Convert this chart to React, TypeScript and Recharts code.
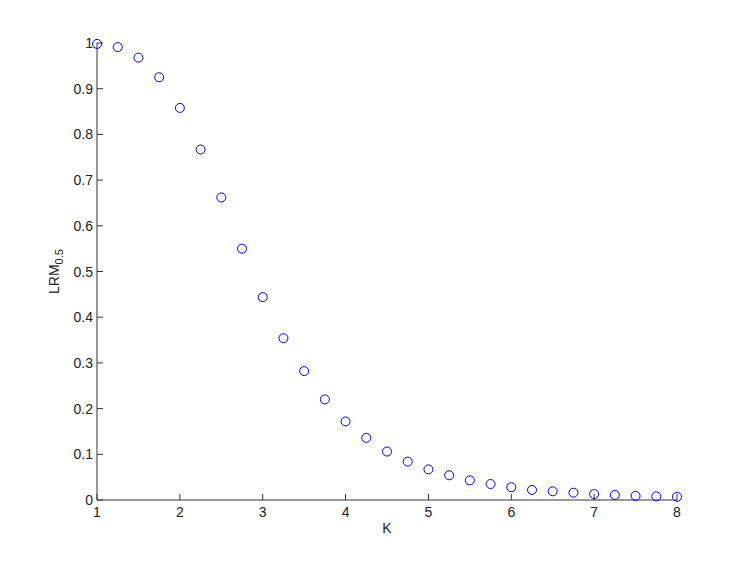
import { ScatterChart, Scatter, XAxis, YAxis } from "recharts"

const kValues = [1, 1.25, 1.5, 1.75, 2, 2.25, 2.5, 2.75, 3, 3.25, 3.5, 3.75, 4, 4.25, 4.5, 4.75, 5, 5.25, 5.5, 5.75, 6, 6.25, 6.5, 6.75, 7, 7.25, 7.5, 7.75, 8]
const lrmValues = [0.998, 0.991, 0.968, 0.925, 0.858, 0.767, 0.662, 0.55, 0.444, 0.354, 0.282, 0.22, 0.172, 0.136, 0.106, 0.084, 0.067, 0.054, 0.043, 0.035, 0.028, 0.022, 0.019, 0.016, 0.013, 0.011, 0.009, 0.008, 0.007]
const xTicks = [1, 2, 3, 4, 5, 6, 7, 8]
const yTicks = [0, 0.1, 0.2, 0.3, 0.4, 0.5, 0.6, 0.7, 0.8, 0.9, 1]

const data = kValues.map((k, i) => ({ k, lrm: lrmValues[i] }))

const FONT = "'Liberation Sans', Arial, sans-serif"
const AXIS = "#333"

const YTick = ({ x, y, payload }: any) => (
    <g>
        <line x1={x + 5} x2={x + 11} y1={y} y2={y} stroke={AXIS} />
        <text x={x + 1} y={y} dy={5} textAnchor="end" fontSize={14} fontFamily={FONT} fill="#222">
            {String(payload.value)}
        </text>
    </g>
)

const XTick = ({ x, y, payload }: any) => (
    <g>
        <line x1={x} x2={x} y1={y - 5} y2={y - 11} stroke={AXIS} />
        <text x={x} y={y} dy={12} textAnchor="middle" fontSize={14} fontFamily={FONT} fill="#222">
            {String(payload.value)}
        </text>
    </g>
)

const YLabel = ({ viewBox }: any) => {
    const cx = viewBox.x + 2
    const cy = viewBox.y + viewBox.height / 2
    return (
        <text transform={`translate(${cx},${cy}) rotate(-90)`} textAnchor="middle" fontSize={14} fontFamily={FONT} fill="#222">
            LRM<tspan fontSize={11} dy={4}>0.5</tspan>
        </text>
    )
}

const Ring = ({ cx, cy }: any) => <circle cx={cx} cy={cy} r={4.5} fill="none" stroke="#0000ff" strokeWidth={1} />

export default function App() {
    return (
        <div style={{ position: "absolute", left: 0, top: 0, background: "#fff" }}>
            <ScatterChart width={747} height={561} margin={{ top: 43, right: 70, bottom: 21, left: 57 }}>
                <XAxis
                    type="number"
                    dataKey="k"
                    domain={[1, 8]}
                    ticks={xTicks}
                    tickLine={false}
                    tickSize={0}
                    tickMargin={5}
                    tick={<XTick />}
                    axisLine={{ stroke: AXIS }}
                    height={40}
                    label={{ value: "K", position: "insideBottom", offset: 7, fontSize: 14, fontFamily: FONT, fill: "#222" }}
                />
                <YAxis
                    type="number"
                    dataKey="lrm"
                    domain={[0, 1]}
                    ticks={yTicks}
                    tickLine={false}
                    tickSize={0}
                    tickMargin={5}
                    tick={<YTick />}
                    axisLine={{ stroke: AXIS }}
                    width={40}
                    label={<YLabel />}
                />
                <Scatter data={data} shape={<Ring />} isAnimationActive={false} />
            </ScatterChart>
        </div>
    )
}
